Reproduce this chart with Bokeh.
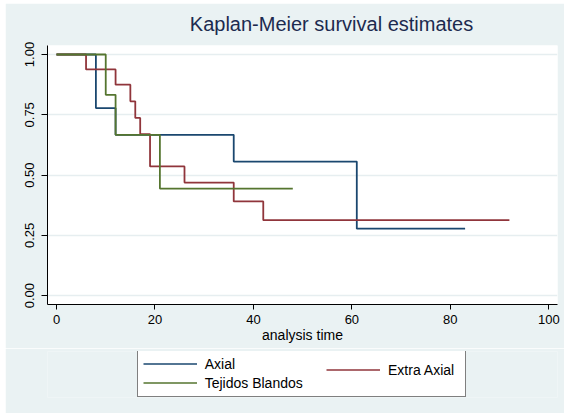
from bokeh.plotting import figure
from bokeh.layouts import column
from bokeh.models import (Legend, LegendItem, Title, FixedTicker, NumeralTickFormatter, Range1d)
from bokeh.embed import file_html
from bokeh.resources import INLINE

# Kaplan-Meier step data (time, survival)
axial_t = [0, 8, 12, 36, 61, 83]
axial_s = [1.0, 0.778, 0.667, 0.556, 0.278, 0.278]

extra_t = [0, 6, 12, 15, 16, 17, 19, 26, 36, 42, 92]
extra_s = [1.0, 0.938, 0.875, 0.806, 0.737, 0.670, 0.536, 0.469, 0.391, 0.313, 0.313]

tejidos_t = [0, 10, 12, 21, 48]
tejidos_s = [1.0, 0.833, 0.667, 0.444, 0.444]

series_names = ["Axial", "Extra Axial", "Tejidos Blandos"]
x_ticks = [0, 20, 40, 60, 80, 100]
y_ticks = [0.0, 0.25, 0.5, 0.75, 1.0]
title_text = "Kaplan-Meier survival estimates"
x_label = "analysis time"

BG = "#eaf2f3"
COLORS = ["#1a476f", "#90353b", "#55752f"]
FONT = "Liberation Sans"

p = figure(width=559, height=345, output_backend="svg", toolbar_location=None,
           x_range=Range1d(-1.83, 101.77), y_range=Range1d(-0.0365, 1.0373),
           min_border_left=42, min_border_right=7, min_border_top=42, min_border_bottom=44,
           margin=(3, 0, 0, 5))
p.border_fill_color = BG
p.background_fill_color = "white"
p.outline_line_color = None

r1 = p.step(axial_t, axial_s, mode="after", line_color=COLORS[0], line_width=1.8)
r2 = p.step(extra_t, extra_s, mode="after", line_color=COLORS[1], line_width=1.8)
r3 = p.step(tejidos_t, tejidos_s, mode="after", line_color=COLORS[2], line_width=1.8)

# axes
p.xaxis.ticker = FixedTicker(ticks=x_ticks)
p.yaxis.ticker = FixedTicker(ticks=y_ticks)
p.yaxis.formatter = NumeralTickFormatter(format="0.00")
p.xaxis.axis_label = x_label
for ax in (p.xaxis, p.yaxis):
    ax.axis_line_color = "black"
    ax.axis_line_width = 1
    ax.major_tick_line_color = "black"
    ax.major_tick_in = 0
    ax.minor_tick_line_color = None
    ax.major_label_text_font = FONT
    ax.major_label_text_font_size = "13px"
    ax.major_label_text_color = "black"
p.xaxis.major_tick_out = 5
p.yaxis.major_tick_out = 6
p.xaxis.major_label_standoff = 5
p.yaxis.major_label_standoff = 7
p.yaxis.major_label_orientation = "vertical"
p.xaxis.axis_label_text_font = FONT
p.xaxis.axis_label_text_font_size = "14px"
p.xaxis.axis_label_text_font_style = "normal"
p.xaxis.axis_label_text_color = "black"
p.xaxis.axis_label_standoff = 0

p.xgrid.grid_line_color = None
p.ygrid.grid_line_color = "#e6eef0"
p.ygrid.grid_line_width = 1.5

# title
p.add_layout(Title(text=title_text, text_font=FONT, text_font_size="20px",
                   text_font_style="normal", text_color="#1c2a4f",
                   align="left", offset=142.3, standoff=18, vertical_align="top"), "above")

# legend figure below the plot; its frame lines up with the plot frame horizontally
lg = figure(width=559, height=65, output_backend="svg", toolbar_location=None,
            x_range=Range1d(1000, 1001), y_range=Range1d(1000, 1001),
            x_axis_location=None, y_axis_location=None,
            min_border_left=42, min_border_right=7, min_border_top=3, min_border_bottom=16,
            margin=(0, 0, 2, 5))
lg.grid.visible = False
lg.outline_line_color = None
lg.background_fill_color = BG
lg.border_fill_color = BG
k1 = lg.line(axial_t, axial_s, line_color=COLORS[0], line_width=1.5)
k2 = lg.line(extra_t, extra_s, line_color=COLORS[1], line_width=1.5)
k3 = lg.line(tejidos_t, tejidos_s, line_color=COLORS[2], line_width=1.5)

common = dict(glyph_width=54, glyph_height=17, label_height=17, label_standoff=8,
              spacing=2, padding=5, margin=0, label_text_font=FONT,
              label_text_font_size="14px", label_text_color="black")
leg1 = Legend(items=[LegendItem(label=series_names[0], renderers=[k1]),
                     LegendItem(label=series_names[2], renderers=[k3])],
              location=(89.7, 0), orientation="vertical", label_width=255,
              border_line_color="black", border_line_width=1,
              background_fill_color="white", background_fill_alpha=1.0, **common)
leg2 = Legend(items=[LegendItem(label=series_names[1], renderers=[k2])],
              location=(279, 19), orientation="vertical",
              border_line_color=None, background_fill_alpha=0.0, **common)
lg.add_layout(leg1, "center")
lg.add_layout(leg2, "center")

open("out.html", "w").write(file_html(column(p, lg, spacing=0), INLINE))
